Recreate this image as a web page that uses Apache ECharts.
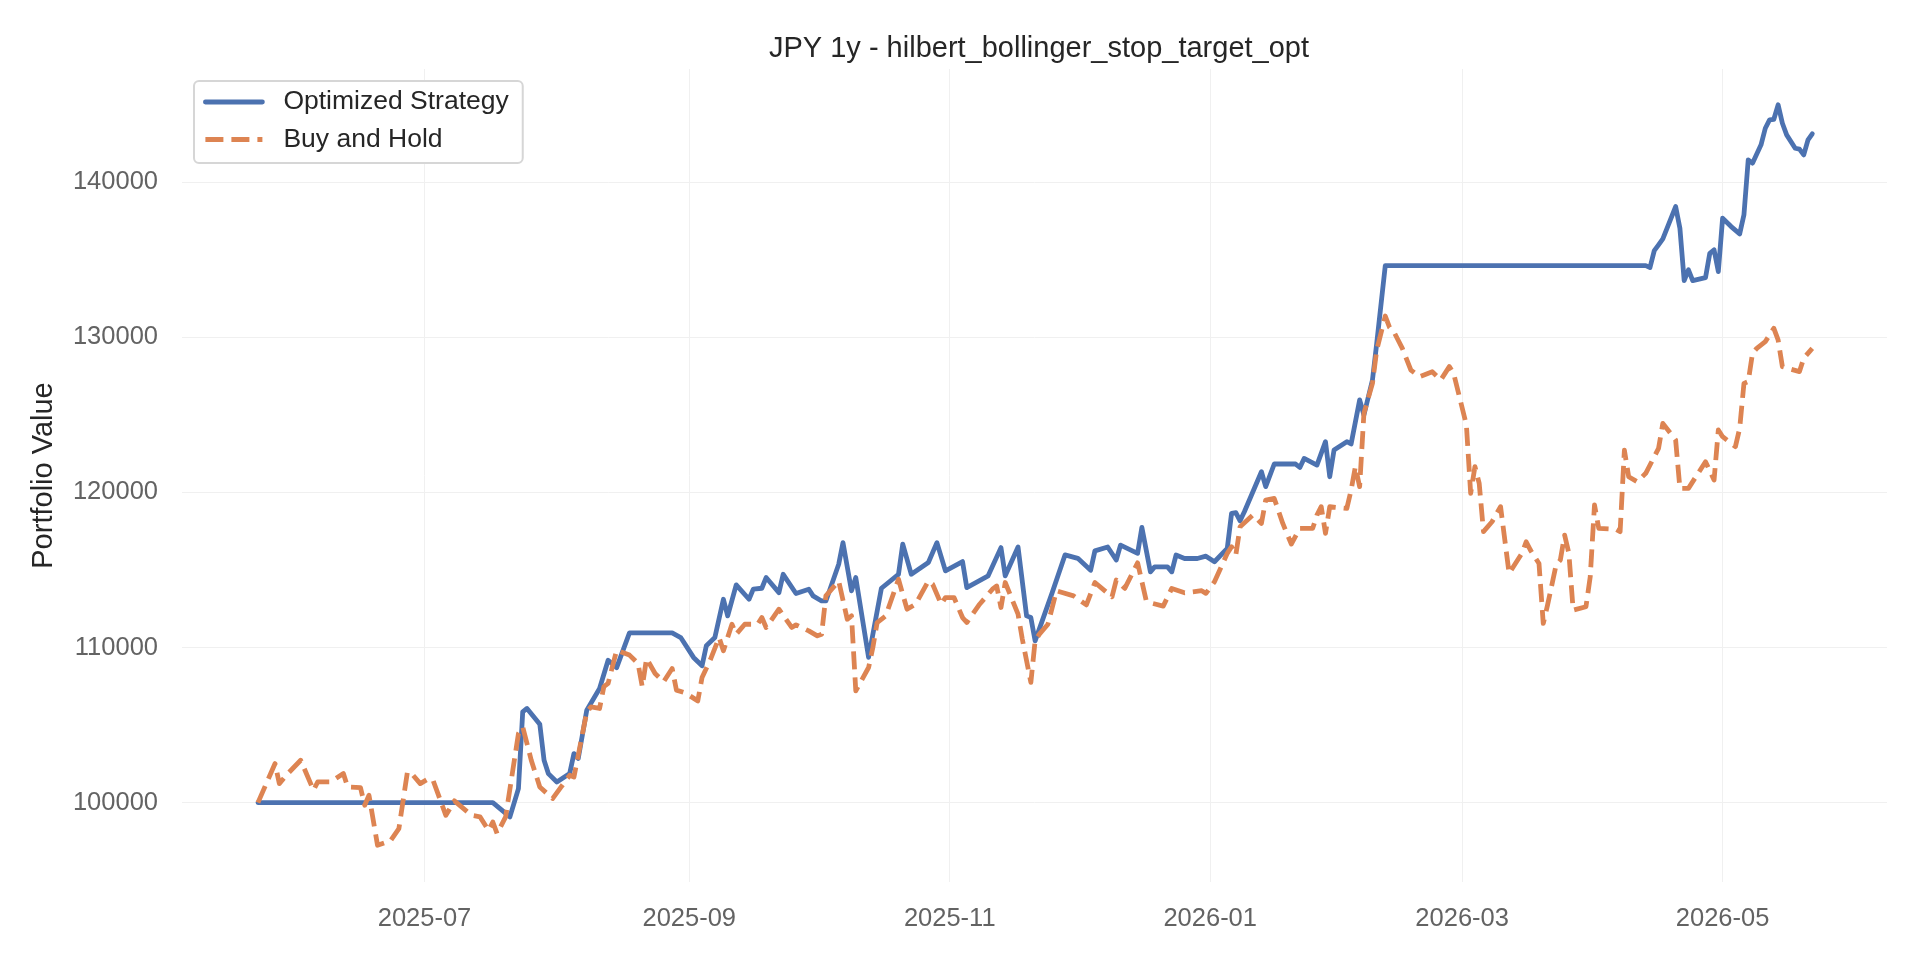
<!DOCTYPE html>
<html>
<head>
<meta charset="utf-8">
<title>JPY 1y - hilbert_bollinger_stop_target_opt</title>
<script src="https://cdn.jsdelivr.net/npm/echarts@6.0.0/dist/echarts.min.js"></script>
<style>
	html, body { margin: 0; padding: 0; background: #fff; }
	#equitychart { width: 1920px; height: 960px; }
</style>
</head>
<body>
<div id="equitychart"></div>
<script>
'use strict';

/******data*****/
var stratDates = [
	'2025-05-23', '2025-07-17', '2025-07-21', '2025-07-23', '2025-07-24', '2025-07-25', '2025-07-28', '2025-07-29',
	'2025-07-30', '2025-08-01', '2025-08-04', '2025-08-05', '2025-08-06', '2025-08-08', '2025-08-11', '2025-08-13',
	'2025-08-15', '2025-08-18', '2025-08-28', '2025-08-30', '2025-09-02', '2025-09-04', '2025-09-05', '2025-09-07',
	'2025-09-09', '2025-09-10', '2025-09-12', '2025-09-15', '2025-09-16', '2025-09-18', '2025-09-19', '2025-09-22',
	'2025-09-23', '2025-09-26', '2025-09-29', '2025-09-30', '2025-10-02', '2025-10-03', '2025-10-06', '2025-10-07',
	'2025-10-09', '2025-10-10', '2025-10-13', '2025-10-16', '2025-10-20', '2025-10-21', '2025-10-23', '2025-10-27',
	'2025-10-29', '2025-10-31', '2025-11-04', '2025-11-05', '2025-11-10', '2025-11-13', '2025-11-14', '2025-11-17',
	'2025-11-19', '2025-11-20', '2025-11-21', '2025-11-25', '2025-11-28', '2025-12-01', '2025-12-04', '2025-12-05',
	'2025-12-08', '2025-12-10', '2025-12-11', '2025-12-15', '2025-12-16', '2025-12-18', '2025-12-19', '2025-12-22',
	'2025-12-23', '2025-12-24', '2025-12-26', '2025-12-29', '2025-12-31', '2026-01-02', '2026-01-05', '2026-01-06',
	'2026-01-07', '2026-01-08', '2026-01-09', '2026-01-13', '2026-01-14', '2026-01-16', '2026-01-21', '2026-01-22',
	'2026-01-23', '2026-01-26', '2026-01-28', '2026-01-29', '2026-01-30', '2026-02-02', '2026-02-03', '2026-02-05',
	'2026-02-06', '2026-02-08', '2026-02-09', '2026-02-11', '2026-04-13', '2026-04-14', '2026-04-15', '2026-04-16',
	'2026-04-17', '2026-04-20', '2026-04-21', '2026-04-22', '2026-04-23', '2026-04-24', '2026-04-27', '2026-04-28',
	'2026-04-29', '2026-04-30', '2026-05-01', '2026-05-03', '2026-05-05', '2026-05-06', '2026-05-07', '2026-05-08',
	'2026-05-10', '2026-05-11', '2026-05-12', '2026-05-13', '2026-05-14', '2026-05-15', '2026-05-16', '2026-05-18',
	'2026-05-19', '2026-05-20', '2026-05-21', '2026-05-22'
];
var stratValues = [
	100000, 100000, 99080, 100900, 105850, 106070, 105050, 102730,
	101870, 101330, 101870, 103160, 102840, 105960, 107360, 109180,
	108700, 110940, 110940, 110640, 109360, 108820, 110110, 110640,
	113110, 112040, 114040, 113110, 113760, 113820, 114510, 113540,
	114720, 113480, 113760, 113330, 113000, 113000, 115370, 116760,
	113650, 114510, 109360, 113820, 114720, 116660, 114720, 115480,
	116760, 114940, 115540, 113860, 114620, 116440, 114620, 116480,
	112040, 111930, 110430, 113540, 115970, 115750, 114980, 116230,
	116480, 115640, 116600, 116070, 117740, 114880, 115200, 115200,
	114880, 115960, 115740, 115740, 115890, 115530, 116390, 118650,
	118690, 118170, 118750, 121330, 120370, 121830, 121830, 121610,
	122190, 121760, 123270, 121010, 122730, 123270, 123120, 125960,
	124990, 127250, 129610, 134620, 134620, 134500, 135590, 135960,
	136345, 138430, 137030, 133660, 134350, 133660, 133850, 135420,
	135640, 134240, 137680, 137140, 136670, 137900, 141440, 141230,
	142410, 143480, 144020, 144060, 144990, 143800, 143050, 142190,
	142130, 141760, 142730, 143120
];

var bhDates = [
	'2025-05-23', '2025-05-27', '2025-05-28', '2025-05-30', '2025-06-02', '2025-06-05', '2025-06-06', '2025-06-09',
	'2025-06-12', '2025-06-13', '2025-06-16', '2025-06-17', '2025-06-18', '2025-06-20', '2025-06-23', '2025-06-25',
	'2025-06-27', '2025-06-28', '2025-06-30', '2025-07-02', '2025-07-03', '2025-07-06', '2025-07-08', '2025-07-12',
	'2025-07-14', '2025-07-16', '2025-07-17', '2025-07-18', '2025-07-20', '2025-07-23', '2025-07-24', '2025-07-26',
	'2025-07-28', '2025-07-31', '2025-08-02', '2025-08-04', '2025-08-05', '2025-08-08', '2025-08-09', '2025-08-11',
	'2025-08-12', '2025-08-13', '2025-08-15', '2025-08-18', '2025-08-20', '2025-08-21', '2025-08-22', '2025-08-24',
	'2025-08-26', '2025-08-28', '2025-08-29', '2025-08-31', '2025-09-03', '2025-09-04', '2025-09-06', '2025-09-08',
	'2025-09-09', '2025-09-11', '2025-09-12', '2025-09-14', '2025-09-17', '2025-09-18', '2025-09-19', '2025-09-22',
	'2025-09-25', '2025-09-26', '2025-09-29', '2025-10-01', '2025-10-02', '2025-10-03', '2025-10-06', '2025-10-08',
	'2025-10-09', '2025-10-10', '2025-10-13', '2025-10-14', '2025-10-15', '2025-10-17', '2025-10-20', '2025-10-22',
	'2025-10-24', '2025-10-27', '2025-10-28', '2025-10-30', '2025-10-31', '2025-11-02', '2025-11-04', '2025-11-05',
	'2025-11-08', '2025-11-11', '2025-11-12', '2025-11-13', '2025-11-14', '2025-11-17', '2025-11-18', '2025-11-20',
	'2025-11-21', '2025-11-22', '2025-11-24', '2025-11-26', '2025-11-30', '2025-12-03', '2025-12-05', '2025-12-09',
	'2025-12-10', '2025-12-12', '2025-12-15', '2025-12-17', '2025-12-18', '2025-12-21', '2025-12-23', '2025-12-26',
	'2025-12-30', '2025-12-31', '2026-01-02', '2026-01-05', '2026-01-06', '2026-01-07', '2026-01-08', '2026-01-11',
	'2026-01-13', '2026-01-14', '2026-01-16', '2026-01-18', '2026-01-20', '2026-01-22', '2026-01-25', '2026-01-26',
	'2026-01-27', '2026-01-28', '2026-01-29', '2026-02-02', '2026-02-03', '2026-02-04', '2026-02-05', '2026-02-06',
	'2026-02-08', '2026-02-09', '2026-02-11', '2026-02-12', '2026-02-13', '2026-02-15', '2026-02-17', '2026-02-19',
	'2026-02-22', '2026-02-24', '2026-02-26', '2026-02-27', '2026-03-02', '2026-03-03', '2026-03-04', '2026-03-05',
	'2026-03-06', '2026-03-08', '2026-03-10', '2026-03-12', '2026-03-15', '2026-03-16', '2026-03-17', '2026-03-19',
	'2026-03-20', '2026-03-21', '2026-03-23', '2026-03-24', '2026-03-25', '2026-03-26', '2026-03-27', '2026-03-30',
	'2026-03-31', '2026-04-01', '2026-04-02', '2026-04-06', '2026-04-07', '2026-04-08', '2026-04-09', '2026-04-11',
	'2026-04-13', '2026-04-16', '2026-04-17', '2026-04-20', '2026-04-21', '2026-04-23', '2026-04-25', '2026-04-27',
	'2026-04-29', '2026-04-30', '2026-05-01', '2026-05-04', '2026-05-05', '2026-05-06', '2026-05-07', '2026-05-08',
	'2026-05-09', '2026-05-11', '2026-05-13', '2026-05-14', '2026-05-15', '2026-05-17', '2026-05-19', '2026-05-20',
	'2026-05-22'
];
var bhValues = [
	100000, 102515, 101225, 101870, 102730, 100800, 101330, 101330,
	101870, 101010, 100970, 99830, 100470, 97250, 97530, 98320,
	101980, 101870, 101225, 101550, 101440, 99180, 100110, 99180,
	99080, 98210, 98750, 98000, 99080, 104450, 104880, 102730,
	101010, 100260, 101010, 101760, 101650, 105850, 106170, 106070,
	107470, 107690, 109830, 109510, 108970, 107470, 109290, 108320,
	107790, 108650, 107250, 107080, 106560, 108070, 109250, 110640,
	109790, 111500, 110860, 111500, 111500, 111930, 111290, 112470,
	111290, 111460, 111070, 110750, 110860, 113330, 114290, 111820,
	112040, 107210, 108710, 110000, 111610, 112040, 114400, 112470,
	112790, 114290, 114080, 112790, 113220, 113220, 111930, 111610,
	112790, 113760, 113970, 112580, 114190, 112150, 110540, 107750,
	110430, 110860, 111500, 113650, 113330, 112750, 114190, 113270,
	114350, 113810, 115460, 113050, 112880, 112670, 113810, 113530,
	113660, 113490, 114240, 116070, 116500, 115960, 117790, 118540,
	118000, 119510, 119610, 118000, 116670, 117680, 117680, 118540,
	119080, 117360, 119080, 118970, 120150, 121660, 120370, 125100,
	127030, 129180, 131370, 130640, 130360, 129290, 127890, 127460,
	127780, 127250, 128110, 127680, 124350, 119940, 121660, 120580,
	117470, 118110, 119080, 114780, 116070, 116820, 116280, 115420,
	111550, 112730, 115310, 115640, 117250, 116070, 112410, 112630,
	114560, 119190, 117680, 117620, 117470, 122730, 121010, 120690,
	121230, 122840, 124450, 123380, 120260, 120260, 121120, 121980,
	120800, 124030, 123590, 122950, 124130, 127030, 127140, 128970,
	129290, 129720, 130580, 129830, 128110, 127940, 127790, 128650,
	129290
];

var xTickDates = ['2025-07-01', '2025-09-01', '2025-11-01', '2026-01-01', '2026-03-01', '2026-05-01'];
var yTickValues = [100000, 110000, 120000, 130000, 140000];
var xMin = '2025-05-05 05:00:00';
var xMax = '2026-06-08 12:00:00';
var yMin = 94880;
var yMax = 147300;
/******data*****/

function toTime(s) {
	return echarts.time.parse(s).getTime();
}

function zipSeries(dates, values) {
	return dates.map(function (d, i) {
		return [toTime(d), values[i]];
	});
}

function pad2(n) {
	return (n < 10 ? '0' : '') + n;
}

var fontFamily = '"Liberation Sans", Arial, sans-serif';
var gridColor = '#f0f0f0';
var tickColor = '#636363';
var textColor = '#262626';
var lineWidth = 4.8;
var xTickTimes = xTickDates.map(toTime);

var option = {
	backgroundColor: '#ffffff',
	animation: false,
	textStyle: { fontFamily: fontFamily },
	title: {
		text: 'JPY 1y - hilbert_bollinger_stop_target_opt',
		left: 1034,
		top: 29,
		textAlign: 'center',
		textStyle: {
			fontFamily: fontFamily,
			fontSize: 29,
			fontWeight: 'normal',
			color: textColor
		}
	},
	legend: {
		orient: 'vertical',
		left: 194,
		top: 81,
		padding: [7.5, 14, 10, 9],
		itemWidth: 57,
		itemHeight: 14,
		itemGap: 10.5,
		backgroundColor: '#ffffff',
		borderColor: '#d6d6d6',
		borderWidth: 2,
		borderRadius: 5,
		// hide the marker dot, keep the line sample
		itemStyle: { opacity: 0 },
		lineStyle: { width: lineWidth },
		formatter: function (name) {
			return '{t|' + name + '}';
		},
		textStyle: {
			rich: {
				t: {
					fontFamily: fontFamily,
					fontSize: 26.5,
					lineHeight: 30,
					color: textColor,
					padding: [0, 0, 0, 16]
				}
			}
		},
		data: ['Optimized Strategy', 'Buy and Hold']
	},
	grid: {
		left: 182,
		right: 33,
		top: 69,
		bottom: 78
	},
	xAxis: {
		type: 'value',
		min: toTime(xMin),
		max: toTime(xMax),
		axisLine: { show: false },
		axisTick: {
			show: false,
			customValues: xTickTimes
		},
		axisLabel: {
			customValues: xTickTimes,
			margin: 24,
			fontSize: 25.5,
			color: tickColor,
			fontFamily: fontFamily,
			formatter: function (value) {
				var d = new Date(value);
				return d.getFullYear() + '-' + pad2(d.getMonth() + 1);
			}
		},
		splitLine: {
			show: true,
			lineStyle: { color: gridColor, width: 1 }
		}
	},
	yAxis: {
		type: 'value',
		min: yMin,
		max: yMax,
		name: 'Portfolio Value',
		nameLocation: 'middle',
		nameRotate: 90,
		nameGap: 124,
		nameTextStyle: {
			fontFamily: fontFamily,
			fontSize: 29,
			color: textColor
		},
		axisLine: { show: false },
		axisTick: {
			show: false,
			customValues: yTickValues
		},
		axisLabel: {
			customValues: yTickValues,
			margin: 24,
			fontSize: 25.5,
			color: tickColor,
			fontFamily: fontFamily,
			formatter: function (value) {
				return String(value);
			}
		},
		splitLine: {
			show: true,
			lineStyle: { color: gridColor, width: 1 }
		}
	},
	series: [
		{
			name: 'Optimized Strategy',
			type: 'line',
			symbol: 'none',
			showSymbol: false,
			data: zipSeries(stratDates, stratValues),
			lineStyle: {
				color: '#4C72B0',
				width: lineWidth,
				join: 'round',
				cap: 'round'
			},
			itemStyle: { color: '#4C72B0' }
		},
		{
			name: 'Buy and Hold',
			type: 'line',
			symbol: 'none',
			showSymbol: false,
			data: zipSeries(bhDates, bhValues),
			lineStyle: {
				color: '#DD8452',
				width: lineWidth,
				type: [18, 8],
				join: 'round',
				cap: 'butt'
			},
			itemStyle: { color: '#DD8452' }
		}
	]
};

var equitychart = echarts.init(document.getElementById('equitychart'));
equitychart.setOption(option);
</script>
</body>
</html>
